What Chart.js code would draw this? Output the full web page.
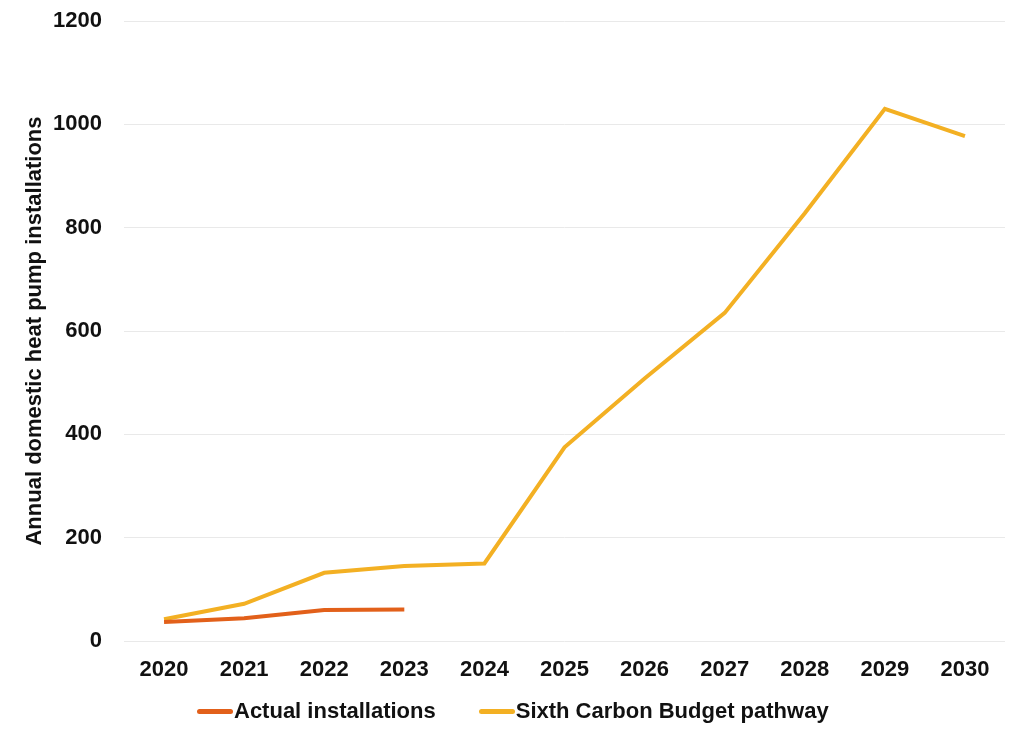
<!DOCTYPE html>
<html>
<head>
<meta charset="utf-8">
<script src="https://cdn.jsdelivr.net/npm/chart.js@4.4.1/dist/chart.umd.min.js"></script>
<style>
    body { margin: 0; background: #fff; }
    #wrap { position: relative; width: 1024px; height: 739px; }
    #legend {
        position: absolute; left: 197px; top: 698px; height: 26px;
        display: flex; align-items: center; gap: 43px;
        font: bold 22px "Liberation Sans", Arial, sans-serif; color: #111;
    }
    .item { display: flex; align-items: center; white-space: nowrap; }
    .swatch { width: 36px; height: 5px; border-radius: 3px; margin-right: 1px; }
</style>
</head>
<body>
<div id="wrap">
    <canvas id="chart"></canvas>
    <div id="legend"></div>
</div>
<script>
const years = ['2020', '2021', '2022', '2023', '2024', '2025', '2026', '2027', '2028', '2029', '2030'];
const actualInstalls = [37, 44, 60, 61];
const carbonBudget = [42, 72, 132, 145, 150, 375, 508, 635, 828, 1030, 977];
const yTicks = [0, 200, 400, 600, 800, 1000, 1200];

const ORANGE = '#E2601A';
const YELLOW = '#F3B023';

const font = { family: '"Liberation Sans", Arial, sans-serif', weight: 'bold', size: 22 };

const chart = new Chart(document.getElementById('chart'), {
    type: 'line',
    data: {
        labels: years,
        datasets: [{
            label: 'Actual installations',
            data: actualInstalls,
            borderColor: ORANGE,
            borderWidth: 4,
            pointRadius: 0,
            pointHoverRadius: 0,
            fill: false,
            tension: 0
        }, {
            label: 'Sixth Carbon Budget pathway',
            data: carbonBudget,
            borderColor: YELLOW,
            borderWidth: 4,
            pointRadius: 0,
            pointHoverRadius: 0,
            fill: false,
            tension: 0
        }]
    },
    options: {
        responsive: true,
        maintainAspectRatio: false,
        animation: false,
        layout: { padding: { top: 21, right: 19, bottom: 49, left: 19 } },
        plugins: {
            tooltip: { enabled: false },
            legend: { display: false }
        },
        scales: {
            x: {
                offset: true,
                afterFit: axis => { axis.height = 49; },
                grid: { display: false },
                border: { display: false },
                ticks: { color: '#111', font: font, padding: 8, maxRotation: 0 }
            },
            y: {
                min: 0,
                max: 1200,
                afterBuildTicks: axis => { axis.ticks = yTicks.map(v => ({ value: v })); },
                afterFit: axis => {
                    axis.width = 105;
                    axis.paddingTop = 0;
                    axis.paddingBottom = 0;
                },
                grid: { color: '#e9e9e9', lineWidth: 1, drawTicks: false },
                border: { display: false },
                ticks: { color: '#111', font: font, padding: 22, callback: v => String(v) },
                title: {
                    display: true,
                    text: 'Annual domestic heat pump installations',
                    color: '#111',
                    font: font,
                    padding: { top: 3, bottom: 0 }
                }
            }
        }
    }
});

// legend built from the datasets, line swatch right against the text
const legend = document.getElementById('legend');
chart.data.datasets.forEach(ds => {
    const item = document.createElement('span');
    item.className = 'item';
    const sw = document.createElement('span');
    sw.className = 'swatch';
    sw.style.background = ds.borderColor;
    item.appendChild(sw);
    item.appendChild(document.createTextNode(ds.label));
    legend.appendChild(item);
});
</script>
</body>
</html>
